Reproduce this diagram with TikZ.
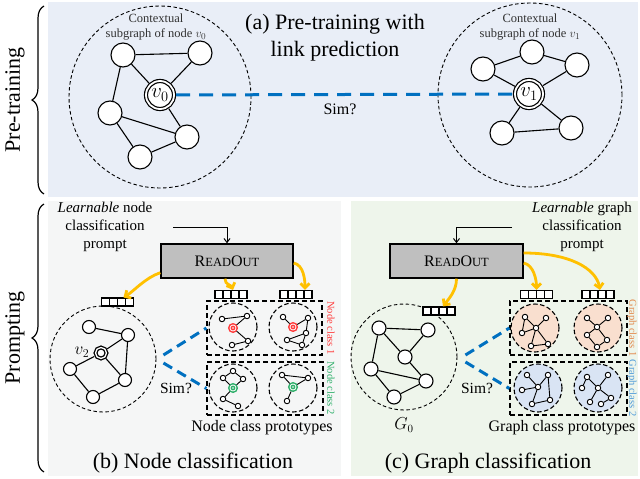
\documentclass[tikz,border=0pt]{standalone}
\usepackage{fontspec}
\setmainfont{Liberation Serif}
\usetikzlibrary{arrows.meta,decorations.pathreplacing,calc}
\definecolor{topbg}{HTML}{E9EEF7}
\definecolor{leftbg}{HTML}{F5F6F6}
\definecolor{rightbg}{HTML}{EEF5EB}
\definecolor{yel}{HTML}{FFC000}
\definecolor{bblue}{HTML}{0070C0}
\definecolor{nred}{HTML}{FF3B3B}
\definecolor{ngreen}{HTML}{2EAF6A}
\definecolor{gorange}{HTML}{E38A4D}
\definecolor{gblue}{HTML}{4F9BD9}
\definecolor{peach}{HTML}{F9DFCF}
\definecolor{lblue}{HTML}{D9E4F4}
\definecolor{boxgray}{HTML}{BFBFBF}
\definecolor{txtgray}{HTML}{333333}
\begin{document}
\begin{tikzpicture}[x=1pt,y=-1pt,
  gn/.style={circle,draw,line width=1.1pt,fill=white,minimum size=24pt,inner sep=0pt},
  mn/.style={circle,draw,line width=1.1pt,fill=white,minimum size=13pt,inner sep=0pt},
  sn/.style={circle,draw,line width=0.9pt,fill=white,minimum size=5.5pt,inner sep=0pt},
  dring/.style={circle,draw,line width=1.2pt,double,double distance=1.8pt,fill=white,minimum size=28pt,inner sep=0pt,outer sep=2.1pt},
  sring/.style={circle,draw,line width=1.3pt,double,double distance=1.3pt,fill=white,minimum size=11pt,inner sep=0pt,outer sep=2pt},
  cring/.style={circle,draw=#1,line width=1.5pt,double,double distance=0.8pt,fill=white,minimum size=6pt,inner sep=0pt,outer sep=1.9pt},
  bigc/.style={circle,draw,dash pattern=on 3.5pt off 2.5pt,line width=0.9pt,inner sep=0pt,minimum size=#1},
  protc/.style={circle,draw,dash pattern=on 4.5pt off 2.5pt,line width=1.1pt,inner sep=0pt,minimum size=48pt},
  crect/.style={draw,dash pattern=on 5pt off 3pt,line width=1.2pt,inner sep=0pt},
  ed/.style={line width=1.1pt},
  sed/.style={line width=0.9pt},
  bdash/.style={draw=bblue,line width=3pt,dash pattern=on 14pt off 9pt},
  bdashs/.style={draw=bblue,line width=3pt,dash pattern=on 10pt off 6pt},
  yarr/.style={draw=yel,line width=2.8pt,-{Straight Barb[length=4.5pt,width=9pt]}},
  karr/.style={line width=1pt,-{Straight Barb[length=4pt,width=6pt]}},
  rbox/.style={draw,line width=1.4pt,fill=boxgray,minimum width=132pt,minimum height=34pt,inner sep=0pt,font=\fontsize{16}{16}\selectfont},
  vec/.style={draw,line width=1.1pt,fill=white,minimum width=32pt,minimum height=8pt,inner sep=0pt,
    path picture={\foreach \k in {1,2,3}{\draw[line width=1.1pt] ([xshift=\k*8pt]path picture bounding box.south west) -- ([xshift=\k*8pt]path picture bounding box.north west);}}},
  brc/.style={decorate,decoration={brace,amplitude=12pt},line width=1.2pt},
  ctx/.style={align=center,text=txtgray,font=\fontsize{12.5}{15.5}\selectfont},
  vlab/.style={rotate=-90,font=\fontsize{10.5}{10.5}\selectfont}
]
\useasboundingbox (0,0) rectangle (640,479);
% backgrounds
\fill[topbg] (48,2) rectangle (638,197);
\fill[leftbg] (48,201) rectangle (341,476);
\fill[rightbg] (351,201) rectangle (638,476);
% braces and side labels
\draw[brc] (44,194) -- (44,6);
\draw[brc] (44,472) -- (44,204);
\node[rotate=90,font=\fontsize{22}{22}\selectfont] (lpre) at (15,100) {Pre-training};
\node[rotate=90,font=\fontsize{22}{22}\selectfont] (lprm) at (15,338) {Prompting};

% ===== (a) =====
\node[align=center,font=\fontsize{22}{27}\selectfont] (ta) at (335,38) {(a) Pre-training with\\link prediction};
\node[bigc=182pt] (C0) at (160,97) {};
\node[bigc=184pt] (C1) at (530,95) {};
\node[ctx] (ctx0) at (156,27) {Contextual\\subgraph of node $v_0$};
\node[ctx] (ctx1) at (530,27) {Contextual\\subgraph of node $v_1$};
\node[dring,font=\fontsize{21}{21}\selectfont] (v0) at (160,95) {$v_0$};
\node[gn] (a) at (123,55) {};
\node[gn] (b) at (200,53) {};
\node[gn] (c) at (110,113) {};
\node[gn] (d) at (187,137) {};
\node[gn] (e) at (140,157) {};
\draw[ed] (a)--(b) (a)--(v0) (b)--(v0) (a)--(c) (c)--(d) (c)--(e) (e)--(d) (v0)--(d);
\node[dring,font=\fontsize{21}{21}\selectfont] (v1) at (529,94) {$v_1$};
\node[gn] (f) at (483,69) {};
\node[gn] (g) at (532,52) {};
\node[gn] (h) at (577,65) {};
\node[gn] (i) at (502,133) {};
\node[gn] (j) at (571,128) {};
\draw[ed] (f)--(g) (g)--(h) (f)--(v1) (h)--(v1) (v1)--(i) (v1)--(j) (i)--(j);
\draw[bdash] (v0) -- (v1);
\node[font=\fontsize{16}{16}\selectfont] (sima) at (340,109) {Sim?};

% ===== (b) =====
\node[align=center,font=\fontsize{15}{18}\selectfont] (lpb) at (105,227) {\textit{Learnable} node\\classification\\prompt};
\node[rbox] (rb) at (227,261) {R{\fontsize{12.5}{12.5}\selectfont EAD}O{\fontsize{12.5}{12.5}\selectfont UT}};
\coordinate (pb) at (173,227);
\draw[karr] (pb) -| (rb.north);
\node[bigc=106pt] (bc) at (103,359) {};
\node[vec] (vb1) at (117.5,302) {};
\node[vec] (vb2) at (231,294.5) {};
\node[vec] (vb3) at (296,294.5) {};
\draw[yarr] ([yshift=6pt]rb.south west) .. controls +(-15,5) and +(10,-6) .. ([xshift=6pt]vb1.north);
\draw[yarr] ([xshift=-2pt]rb.south) .. controls +(0,6) and +(-2,-5) .. ([xshift=2pt]vb2.north);
\draw[yarr] ([yshift=-2pt]rb.east) .. controls +(10,2) and +(0,-10) .. ([xshift=9pt]vb3.north);
\node[sring] (v2) at (101,353) {};
\node[font=\fontsize{17}{17}\selectfont] (v2l) at (82,352) {$v_2$};
\node[mn] (b1) at (89,327) {};
\node[mn] (b2) at (128,335) {};
\node[mn] (b3) at (70,369) {};
\node[mn] (b4) at (125,380) {};
\node[mn] (b5) at (93,397) {};
\draw[ed] (b1)--(b2) (b2)--(v2) (b2)--(b4) (v2)--(b3) (v2)--(b4) (b3)--(b5) (b5)--(b4);
\node[crect,minimum width=115pt,minimum height=54pt] (nc1) at (264.5,328) {};
\node[crect,minimum width=116pt,minimum height=53pt] (nc2) at (265,388.5) {};
\draw[bdashs] ([xshift=7pt,yshift=4pt]bc.east) -- (nc1.west);
\draw[bdashs] ([xshift=7pt,yshift=-4pt]bc.east) -- (nc2.west);
\node[font=\fontsize{15.5}{15.5}\selectfont] (simb) at (176,388) {Sim?};
\node[protc] (pA) at (233,327) {};
\node[protc] (pB) at (293,327) {};
\node[protc] (pC) at (233,388) {};
\node[protc] (pD) at (293,388) {};
% class 1 A
\node[cring=nred] (rA) at (233,328) {};
\node[sn] (a1) at (222,319) {};
\node[sn] (a2) at (247,316) {};
\node[sn] (a3) at (248,341) {};
\node[sn] (a4) at (232,345) {};
\draw[sed] (a1)--(a2) (a2)--(rA) (rA)--(a3) (a3)--(a4);
% class 1 B
\node[cring=nred] (rB) at (293,327) {};
\node[sn] (q1) at (283,317) {};
\node[sn] (q2) at (308,318) {};
\node[sn] (q3) at (306,333) {};
\node[sn] (q4) at (287,340) {};
\node[sn] (q5) at (302,345) {};
\draw[sed] (q1)--(rB) (rB)--(q2) (q2)--(q3) (q3)--(q4) (q4)--(q5) (q5)--(q3);
% class 2 A
\node[cring=ngreen] (gA) at (233,388) {};
\node[sn] (s1) at (223,378) {};
\node[sn] (s2) at (233,371) {};
\node[sn] (s3) at (243,379) {};
\node[sn] (s4) at (223,399) {};
\node[sn] (s5) at (238,406) {};
\draw[sed] (s1)--(s2) (s2)--(s3) (s3)--(gA) (s1)--(gA) (gA)--(s4) (s4)--(s5);
% class 2 B
\node[cring=ngreen] (gB) at (293,387) {};
\node[sn] (t1) at (282,375) {};
\node[sn] (t2) at (308,378) {};
\node[sn] (t3) at (287,401) {};
\draw[sed] (t1)--(t2) (t1)--(gB) (t2)--(gB) (gB)--(t3);
\node[vlab,text=nred] (lnc1) at (331,328) {Node class 1};
\node[vlab,text=ngreen] (lnc2) at (331,388) {Node class 2};
\node[font=\fontsize{16}{16}\selectfont] (ncp) at (262,428) {Node class prototypes};
\node[font=\fontsize{22}{22}\selectfont] (tb) at (193,463) {(b) Node classification};

% ===== (c) =====
\node[align=center,font=\fontsize{15}{18}\selectfont] (lpc) at (582,227) {\textit{Learnable} graph\\classification\\prompt};
\node[rbox,minimum width=133pt] (rc) at (456.5,261) {R{\fontsize{12.5}{12.5}\selectfont EAD}O{\fontsize{12.5}{12.5}\selectfont UT}};
\coordinate (pc) at (512,227);
\draw[karr] (pc) -| (rc.north);
\node[bigc=106pt] (cc) at (404,357) {};
\node[vec] (vc1) at (439,311) {};
\node[vec] (vc2) at (536.5,294.5) {};
\node[vec] (vc3) at (598,294.5) {};
\draw[yarr] (rc.south) .. controls +(0,12) and +(6,-8) .. ([xshift=4pt]vc1.north);
\draw[yarr] ([yshift=-2pt]rc.east) .. controls +(10,2) and +(0,-10) .. (vc2.north);
\draw[yarr] ([yshift=8pt]rc.east) .. controls +(45,0) and +(-4,-22) .. ([xshift=2pt]vc3.north);
\node[mn,minimum size=14pt] (m1) at (379,328) {};
\node[mn,minimum size=14pt] (m2) at (428,330) {};
\node[mn,minimum size=14pt] (m3) at (405,357) {};
\node[mn,minimum size=14pt] (m4) at (371,369) {};
\node[mn,minimum size=14pt] (m5) at (426,381) {};
\node[mn,minimum size=14pt] (m6) at (394,397) {};
\draw[ed] (m1)--(m2) (m1)--(m3) (m2)--(m3) (m1)--(m4) (m4)--(m5) (m3)--(m5) (m4)--(m6) (m6)--(m5);
\node[font=\fontsize{16}{16}\selectfont] (g0l) at (404,425) {$G_0$};
\node[crect,minimum width=117pt,minimum height=54pt] (cc1) at (568.5,328) {};
\node[crect,minimum width=117pt,minimum height=53pt] (cc2) at (568.5,388.5) {};
\draw[bdashs] ([xshift=8pt,yshift=2pt]cc.east) -- (cc1.west);
\draw[bdashs] ([xshift=8pt,yshift=-5pt]cc.east) -- (cc2.west);
\node[font=\fontsize{15.5}{15.5}\selectfont] (simc) at (477,388) {Sim?};
\node[protc,fill=peach] (qA) at (535,328) {};
\node[protc,fill=peach] (qB) at (598,328) {};
\node[protc,fill=lblue] (qC) at (538,388) {};
\node[protc,fill=lblue] (qD) at (598,388) {};
% graph class 1 A
\node[sn] (h1) at (536,328) {};
\node[sn] (u1) at (525,317) {};
\node[sn] (u2) at (546,318) {};
\node[sn] (u3) at (522,333) {};
\node[sn] (u4) at (531,346) {};
\node[sn] (u5) at (548,344) {};
\draw[sed] (u1)--(h1) (u1)--(u3) (u3)--(h1) (h1)--(u2) (h1)--(u4) (u4)--(u5) (h1)--(u5);
% graph class 1 B
\node[sn] (h2) at (597,327) {};
\node[sn] (w1) at (587,318) {};
\node[sn] (w2) at (608,318) {};
\node[sn] (w3) at (587,335) {};
\node[sn] (w4) at (607,340) {};
\node[sn] (w5) at (597,347) {};
\draw[sed] (h2)--(w1) (h2)--(w2) (h2)--(w3) (h2)--(w4) (w3)--(w5) (w4)--(w5);
% graph class 2 A
\node[sn] (h3) at (538,387) {};
\node[sn] (x1) at (527,375) {};
\node[sn] (x2) at (548,375) {};
\node[sn] (x3) at (522,390) {};
\node[sn] (x4) at (532,404) {};
\node[sn] (x5) at (550,400) {};
\draw[sed] (h3)--(x1) (h3)--(x2) (h3)--(x3) (h3)--(x4) (x2)--(x5) (x4)--(x5);
% graph class 2 B
\node[sn] (h4) at (598,388) {};
\node[sn] (y1) at (587,377) {};
\node[sn] (y2) at (608,375) {};
\node[sn] (y3) at (582,388) {};
\node[sn] (y4) at (590,402) {};
\node[sn] (y5) at (611,398) {};
\node[sn] (y6) at (601,404) {};
\draw[sed] (y1)--(y3) (y1)--(h4) (h4)--(y2) (h4)--(y4) (h4)--(y5) (y5)--(y6);
\node[vlab,text=gorange] (lgc1) at (632,328) {Graph class 1};
\node[vlab,text=gblue] (lgc2) at (632,388) {Graph class 2};
\node[font=\fontsize{16}{16}\selectfont] (gcp) at (562,428) {Graph class prototypes};
\node[font=\fontsize{22}{22}\selectfont] (tc) at (488,463) {(c) Graph classification};
\end{tikzpicture}
\end{document}
